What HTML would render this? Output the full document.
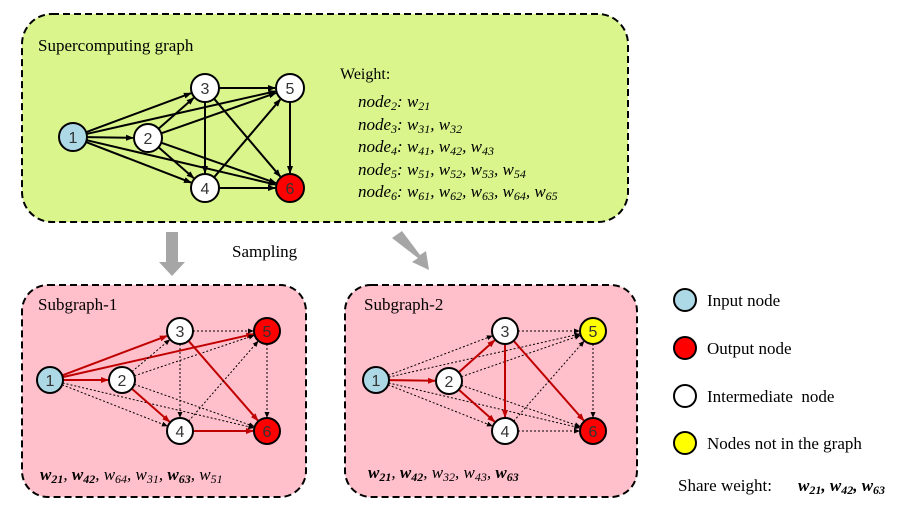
<!DOCTYPE html>
<html><head><meta charset="utf-8"><style>
body{margin:0;background:#fff;width:913px;height:511px;overflow:hidden}
svg{display:block}
text{font-family:"Liberation Serif",serif}
</style></head><body>
<svg id="s" width="913" height="511" xmlns="http://www.w3.org/2000/svg">
<defs>
<marker id="ab" markerWidth="8" markerHeight="8" refX="7" refY="4" orient="auto" markerUnits="userSpaceOnUse"><path d="M0,1 L8,4 L0,7z" fill="#000"/></marker>
<marker id="ar" markerWidth="8" markerHeight="8" refX="7" refY="4" orient="auto" markerUnits="userSpaceOnUse"><path d="M0,1 L8,4 L0,7z" fill="#c00000"/></marker>
<marker id="ad" markerWidth="6" markerHeight="6" refX="5" refY="3" orient="auto" markerUnits="userSpaceOnUse"><path d="M0,0.5 L6,3 L0,5.5z" fill="#000"/></marker>
</defs>
<rect x="22" y="14" width="606" height="208" rx="30" fill="#d9f58c" stroke="#000" stroke-width="2" stroke-dasharray="7,4"/>
<rect x="22" y="285" width="284" height="212" rx="26" fill="#ffbfcb" stroke="#000" stroke-width="2" stroke-dasharray="7,4"/>
<rect x="345" y="285" width="292" height="212" rx="26" fill="#ffbfcb" stroke="#000" stroke-width="2" stroke-dasharray="7,4"/>
<text x="38" y="51" font-size="17">Supercomputing graph</text>
<text x="38" y="310" font-size="17">Subgraph-1</text>
<text x="364" y="310" font-size="17">Subgraph-2</text>
<text x="232" y="257" font-size="17">Sampling</text>
<g font-size="17" font-style="italic">
<text x="340" y="79" font-style="normal" font-size="16">Weight:</text>
<text x="358" y="107">node<tspan font-size="12" dy="3">2</tspan><tspan dy="-3">: w</tspan><tspan font-size="12" dy="3">21</tspan></text>
<text x="358" y="130">node<tspan font-size="12" dy="3">3</tspan><tspan dy="-3">: w</tspan><tspan font-size="12" dy="3">31</tspan><tspan dy="-3">, w</tspan><tspan font-size="12" dy="3">32</tspan></text>
<text x="358" y="152">node<tspan font-size="12" dy="3">4</tspan><tspan dy="-3">: w</tspan><tspan font-size="12" dy="3">41</tspan><tspan dy="-3">, w</tspan><tspan font-size="12" dy="3">42</tspan><tspan dy="-3">, w</tspan><tspan font-size="12" dy="3">43</tspan></text>
<text x="358" y="175">node<tspan font-size="12" dy="3">5</tspan><tspan dy="-3">: w</tspan><tspan font-size="12" dy="3">51</tspan><tspan dy="-3">, w</tspan><tspan font-size="12" dy="3">52</tspan><tspan dy="-3">, w</tspan><tspan font-size="12" dy="3">53</tspan><tspan dy="-3">, w</tspan><tspan font-size="12" dy="3">54</tspan></text>
<text x="358" y="197">node<tspan font-size="12" dy="3">6</tspan><tspan dy="-3">: w</tspan><tspan font-size="12" dy="3">61</tspan><tspan dy="-3">, w</tspan><tspan font-size="12" dy="3">62</tspan><tspan dy="-3">, w</tspan><tspan font-size="12" dy="3">63</tspan><tspan dy="-3">, w</tspan><tspan font-size="12" dy="3">64</tspan><tspan dy="-3">, w</tspan><tspan font-size="12" dy="3">65</tspan></text>
<text x="40" y="480"><tspan font-weight="bold">w</tspan><tspan font-size="12" dy="3" font-weight="bold">21</tspan><tspan dy="-3">, </tspan><tspan font-weight="bold">w</tspan><tspan font-size="12" dy="3" font-weight="bold">42</tspan><tspan dy="-3">, w</tspan><tspan font-size="12" dy="3">64</tspan><tspan dy="-3">, w</tspan><tspan font-size="12" dy="3">31</tspan><tspan dy="-3">, </tspan><tspan font-weight="bold">w</tspan><tspan font-size="12" dy="3" font-weight="bold">63</tspan><tspan dy="-3">, w</tspan><tspan font-size="12" dy="3">51</tspan></text>
<text x="368" y="478"><tspan font-weight="bold">w</tspan><tspan font-size="12" dy="3" font-weight="bold">21</tspan><tspan dy="-3">, </tspan><tspan font-weight="bold">w</tspan><tspan font-size="12" dy="3" font-weight="bold">42</tspan><tspan dy="-3">, w</tspan><tspan font-size="12" dy="3">32</tspan><tspan dy="-3">, w</tspan><tspan font-size="12" dy="3">43</tspan><tspan dy="-3">, </tspan><tspan font-weight="bold">w</tspan><tspan font-size="12" dy="3" font-weight="bold">63</tspan></text>
</g>
<text x="678" y="491" font-size="17">Share weight:</text>
<text x="798" y="491" font-size="17" font-style="italic" font-weight="bold">w<tspan font-size="12" dy="3">21</tspan><tspan dy="-3">, w</tspan><tspan font-size="12" dy="3">42</tspan><tspan dy="-3">, w</tspan><tspan font-size="12" dy="3">63</tspan></text>
<path d="M166,232 h12 v30 h7 l-13,14 l-13,-14 h7z" fill="#a6a6a6"/>
<path d="M392,238 l10,-7 l18,24 l6,-4 l3,19 l-17,-8 l6,-4z" fill="#a6a6a6"/>
<g stroke="#000" stroke-width="2">
<circle cx="685" cy="300" r="11" fill="#add8e6"/>
<circle cx="685" cy="348" r="11" fill="#f00"/>
<circle cx="685" cy="396" r="11" fill="#fff"/>
<circle cx="685" cy="443" r="11" fill="#ff0"/>
</g>
<g font-size="17">
<text x="707" y="306">Input node</text>
<text x="707" y="354">Output node</text>
<text x="707" y="402">Intermediate&#160; node</text>
<text x="707" y="449">Nodes not in the graph</text>
</g>
<g id="e"></g><g id="n"></g>
</svg>
<script>
var E=[[1,2],[1,3],[1,4],[1,5],[1,6],[2,3],[2,4],[2,5],[2,6],[3,4],[3,5],[3,6],[4,5],[4,6],[5,6]];
var G=[
{p:{1:[73,137],2:[148,138],3:[205,88],4:[205,188],5:[290,88],6:[290,188]},r:14,fill:{1:'#add8e6',6:'#f00'},red:null},
{p:{1:[50,380],2:[122,380],3:[180,331],4:[180,431],5:[267,331],6:[267,431]},r:13,fill:{1:'#add8e6',5:'#f00',6:'#f00'},red:['1-2','1-3','1-5','2-4','3-6','4-6']},
{p:{1:[376,380],2:[449,381],3:[505,331],4:[505,431],5:[593,331],6:[593,431]},r:13,fill:{1:'#add8e6',5:'#ff0',6:'#f00'},red:['1-2','2-3','2-4','3-4','3-6']}];
var ns='http://www.w3.org/2000/svg',eg=document.getElementById('e'),ng=document.getElementById('n');
function el(t,a,p){var x=document.createElementNS(ns,t);for(var k in a)x.setAttribute(k,a[k]);p.appendChild(x);return x;}
G.forEach(function(g){
E.forEach(function(e){var a=g.p[e[0]],b=g.p[e[1]],dx=b[0]-a[0],dy=b[1]-a[1],L=Math.hypot(dx,dy),ux=dx/L,uy=dy/L;
var red=g.red&&g.red.indexOf(e[0]+'-'+e[1])>=0,dash=g.red&&!red;
el('line',{x1:a[0]+ux*g.r,y1:a[1]+uy*g.r,x2:b[0]-ux*(g.r+1),y2:b[1]-uy*(g.r+1),stroke:red?'#c00000':'#000','stroke-width':red?2:(dash?1:2),'stroke-dasharray':dash?'2,2':'none','marker-end':red?'url(#ar)':(dash?'url(#ad)':'url(#ab)')},eg);});
for(var i=1;i<=6;i++){var p=g.p[i];el('circle',{cx:p[0],cy:p[1],r:g.r,fill:g.fill[i]||'#fff',stroke:'#000','stroke-width':2},ng);
var t=el('text',{x:p[0],y:p[1]+6,'text-anchor':'middle','font-size':16,fill:'#333'},ng);t.style.fontFamily='"Liberation Sans",sans-serif';t.textContent=i;}
});
</script>
</body></html>
